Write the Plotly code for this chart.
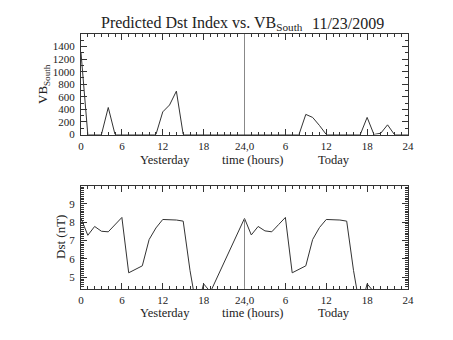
import plotly.graph_objects as go

# Hourly axis: 0-24 is yesterday, 24-48 is today
hours_vb = list(range(0, 49))
vb_south = [1300, 0, 0, 0, 430, 0, 0, 0, 0, 0, 0, 0,
            360, 470, 690, 0, 0, 0, 0, 0, 0, 0, 0, 0,
            0, 0, 0, 0, 0, 0, 0, 0, 0, 320, 272, 144,
            0, 0, 0, 0, 0, 0, 272, 0, 20, 154, 0, 0, 0]

hours_dst = [0, 1, 2, 3, 4, 5, 6, 7, 8, 9, 10, 11, 12, 13, 14, 15, 16, 17, 18, 19,
             24, 25, 26, 27, 28, 29, 30, 31, 32, 33, 34, 35, 36, 37, 38, 39, 40, 41, 42, 43]
dst = [8.2, 7.28, 7.76, 7.5, 7.47, 7.85, 8.25, 5.24, 5.43, 5.62, 7.05, 7.68,
       8.14, 8.13, 8.11, 8.05, 5.37, 3.24, 4.64, 4.2,
       8.2, 7.3, 7.76, 7.52, 7.47, 7.86, 8.25, 5.24, 5.43, 5.62, 7.05, 7.7,
       8.14, 8.13, 8.11, 8.05, 5.37, 3.24, 4.64, 4.2]

x_tickvals = [0, 6, 12, 18, 24, 30, 36, 42, 48]
x_ticktext = ["0", "6", "12", "18", "24,0", "6", "12", "18", "24"]
vb_tickvals = [0, 200, 400, 600, 800, 1000, 1200, 1400]
dst_tickvals = [5, 6, 7, 8, 9]

title_text = "Predicted Dst Index vs. VB<sub>South</sub>"
date_text = "11/23/2009"
vb_label = "VB<sub>South</sub>"
dst_label = "Dst (nT)"
# x-axis caption pieces, positioned in hours
day_labels = [(12.33, "Yesterday"), (25.17, "time (hours)"), (37.2, "Today")]

FONT = "Liberation Serif"
INK = "#222222"
LINE = "#333333"

W, H = 453, 340
ML, MR, MT, MB = 81, 45, 34, 51
PW, PH = W - ML - MR, H - MT - MB


def px_x(x):
    return (x - ML) / PW


def px_y(y):
    return (H - MB - y) / PH


top_dom = [px_y(134.5), 1.0]
bot_dom = [0.0, px_y(186)]

fig = go.Figure()
fig.add_trace(go.Scatter(x=hours_vb, y=vb_south, mode="lines",
                         line=dict(color=LINE, width=1), xaxis="x", yaxis="y",
                         cliponaxis=True, showlegend=False))
fig.add_trace(go.Scatter(x=hours_dst, y=dst, mode="lines",
                         line=dict(color=LINE, width=1), xaxis="x2", yaxis="y2",
                         cliponaxis=True, showlegend=False))


def xaxis_style(anchor):
    return dict(range=[0, 48], anchor=anchor, tickvals=x_tickvals, ticktext=x_ticktext,
                ticks="inside", ticklen=6, tickcolor=LINE, tickwidth=1,
                minor=dict(dtick=1, ticks="inside", ticklen=3, tickcolor=LINE, tickwidth=1),
                showline=True, linecolor=LINE, linewidth=1, mirror="allticks",
                showgrid=False, zeroline=False, ticklabelstandoff=1,
                tickfont=dict(family=FONT, size=11, color=INK))


fig.update_layout(
    width=W, height=H,
    margin=dict(l=ML, r=MR, t=MT, b=MB),
    paper_bgcolor="white", plot_bgcolor="white",
    showlegend=False,
    xaxis=dict(domain=[0, 1], **xaxis_style("y")),
    xaxis2=dict(domain=[0, 1], **xaxis_style("y2")),
    yaxis=dict(domain=top_dom, anchor="x", range=[0, 1600], tickvals=vb_tickvals,
               ticks="inside", ticklen=6, tickcolor=LINE,
               minor=dict(dtick=100, ticks="inside", ticklen=3, tickcolor=LINE),
               showline=True, linecolor=LINE, linewidth=1, mirror="allticks",
               showgrid=False, zeroline=False, ticklabelstandoff=3,
               tickfont=dict(family=FONT, size=11, color=INK)),
    yaxis2=dict(domain=bot_dom, anchor="x2", range=[4.36, 9.96], tickvals=dst_tickvals,
                ticks="inside", ticklen=6, tickcolor=LINE,
                minor=dict(dtick=0.1, ticks="inside", ticklen=3, tickcolor=LINE),
                showline=True, linecolor=LINE, linewidth=1, mirror="allticks",
                showgrid=False, zeroline=False, ticklabelstandoff=3,
                tickfont=dict(family=FONT, size=11, color=INK)),
)

# Day divider at hour 24
fig.add_shape(type="line", xref="x", yref="y domain", x0=24, x1=24, y0=0, y1=1,
              line=dict(color="#888888", width=1))
fig.add_shape(type="line", xref="x2", yref="y2", x0=24, x1=24, y0=4.36, y1=dst[hours_dst.index(24)],
              line=dict(color="#888888", width=1))

ann = []
ann.append(dict(text=title_text, x=px_x(99), y=px_y(24), xref="paper", yref="paper",
                xanchor="left", yanchor="middle", showarrow=False,
                font=dict(family=FONT, size=16, color=INK)))
ann.append(dict(text=date_text, x=px_x(310), y=px_y(24), xref="paper", yref="paper",
                xanchor="left", yanchor="middle", showarrow=False,
                font=dict(family=FONT, size=16, color=INK)))
ann.append(dict(text=vb_label, x=px_x(43), y=px_y(84), xref="paper", yref="paper",
                xanchor="center", yanchor="middle", textangle=-90, showarrow=False,
                font=dict(family=FONT, size=13, color=INK)))
ann.append(dict(text=dst_label, x=px_x(60), y=px_y(237), xref="paper", yref="paper",
                xanchor="center", yanchor="middle", textangle=-90, showarrow=False,
                font=dict(family=FONT, size=13, color=INK)))
for xv, label in day_labels:
    ann.append(dict(text=label, x=xv, xref="x", y=px_y(160), yref="paper",
                    xanchor="center", yanchor="middle", showarrow=False,
                    font=dict(family=FONT, size=12.5, color=INK)))
    ann.append(dict(text=label, x=xv, xref="x2", y=px_y(312.5), yref="paper",
                    xanchor="center", yanchor="middle", showarrow=False,
                    font=dict(family=FONT, size=12.5, color=INK)))
fig.update_layout(annotations=ann)

fig.write_html("out.html")
